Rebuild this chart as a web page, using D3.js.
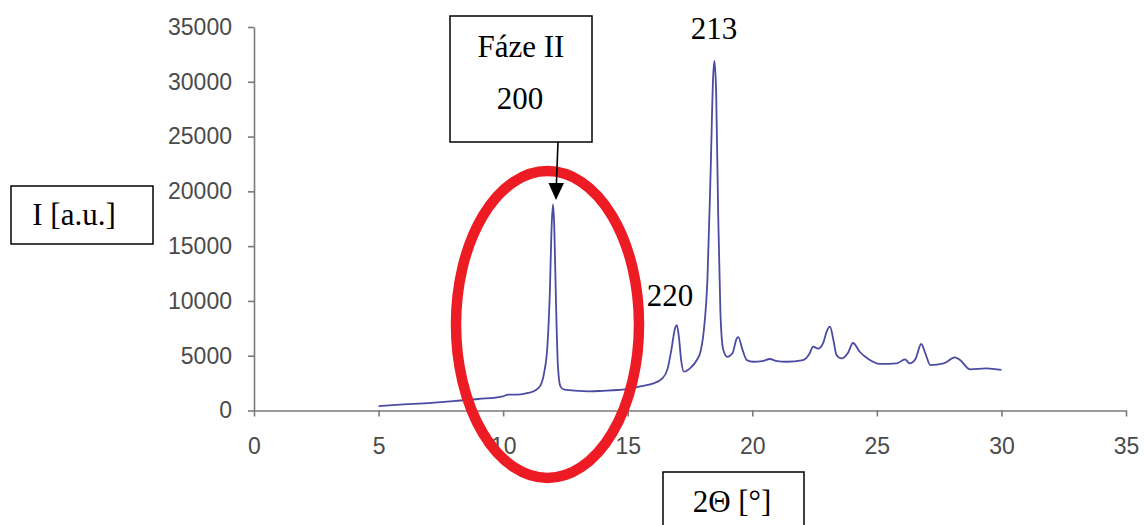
<!DOCTYPE html>
<html>
<head>
<meta charset="utf-8">
<script src="https://cdnjs.cloudflare.com/ajax/libs/d3/7.8.5/d3.min.js"></script>
<style>
  body { margin: 0; background: #fff; }
  .tick text { font-family: "Liberation Sans", Arial, sans-serif; font-size: 23px; fill: #4a4a4a; }
  .note { font-family: "Liberation Serif", "Times New Roman", serif; font-size: 31px; fill: #000; }
</style>
</head>
<body>
<div id="chart"></div>
<script>
// diffraction pattern
var twoTheta = [5, 6, 7, 8, 9, 10, 10.2, 10.6, 11, 11.3, 11.5, 11.65, 11.78, 11.87, 11.95, 12.0,
  12.05, 12.12, 12.2, 12.3, 12.45, 13, 13.5, 14, 14.6, 15, 15.5, 16, 16.4, 16.6, 16.75, 16.9,
  16.97, 17.05, 17.15, 17.25, 17.5, 17.8, 17.9, 18.05, 18.2, 18.33, 18.43, 18.48, 18.55, 18.63,
  18.72, 18.83, 19.0, 19.2, 19.38, 19.44, 19.6, 19.78, 20.04, 20.4, 20.7, 21.0, 21.37, 22.04,
  22.3, 22.44, 22.64, 22.85, 23.0, 23.12, 23.25, 23.38, 23.58, 23.85, 24.04, 24.32, 24.6,
  25.13, 25.8, 26.13, 26.32, 26.55, 26.78, 26.95, 27.14, 27.68, 28.14, 28.34, 28.74, 29.4, 30.0];
var intensity = [400, 550, 680, 850, 1050, 1300, 1450, 1450, 1600, 1850, 2300, 3500, 6000, 10500, 17000, 18800,
  17000, 10000, 4000, 2200, 1900, 1800, 1750, 1800, 1870, 1950, 2200, 2450, 2950, 3800, 5500, 7500,
  7800, 6800, 4500, 3550, 3850, 4700, 5200, 7200, 12000, 22000, 30500, 31900, 29000, 18000,
  9000, 5600, 4900, 5200, 6600, 6700, 5600, 4600, 4450, 4500, 4700, 4500, 4450, 4600,
  5200, 5830, 5650, 6200, 7300, 7650, 6500, 5070, 4760, 5300, 6160, 5340, 4790,
  4250, 4300, 4670, 4300, 4700, 6070, 5200, 4150, 4300, 4850, 4600, 3760, 3850, 3700];

var xTicks = [0, 5, 10, 15, 20, 25, 30, 35];
var yTicks = [0, 5000, 10000, 15000, 20000, 25000, 30000, 35000];

var data = twoTheta.map(function(t, i) { return {t: t, v: intensity[i]}; });

var width = 1145, height = 525;

var svg = d3.select("#chart")
  .append("svg")
    .attr("width", width)
    .attr("height", height);

var x = d3.scaleLinear().domain([0, 35]).range([254, 1126]);
var y = d3.scaleLinear().domain([0, 35000]).range([410.5, 27]);

// X axis
svg.append("g")
  .attr("transform", "translate(0," + y(0) + ")")
  .call(d3.axisBottom(x).tickValues(xTicks).tickFormat(d3.format("d"))
    .tickSizeInner(6).tickSizeOuter(0).tickPadding(21));

// Y axis
svg.append("g")
  .attr("transform", "translate(" + x(0) + ",0)")
  .call(d3.axisLeft(y).tickValues(yTicks).tickFormat(d3.format("d"))
    .tickSizeInner(6).tickSizeOuter(0).tickPadding(16));

svg.selectAll(".domain, .tick line")
  .attr("stroke", "#7a7a7a")
  .attr("stroke-width", 1.6);

// pattern
svg.append("path")
  .datum(data)
  .attr("fill", "none")
  .attr("stroke", "#4b4ba3")
  .attr("stroke-width", 1.8)
  .attr("d", d3.line()
    .x(function(d) { return x(d.t); })
    .y(function(d) { return y(d.v); })
    .curve(d3.curveMonotoneX));

// red ring around the 200 reflection
svg.append("ellipse")
  .attr("cx", 547.5)
  .attr("cy", 324.5)
  .attr("rx", 91.5)
  .attr("ry", 153.5)
  .attr("fill", "none")
  .attr("stroke", "#ed1c24")
  .attr("stroke-width", 10.5);

// boxes with labels
var box = function(x0, y0, w, h) {
  svg.append("rect")
    .attr("x", x0).attr("y", y0)
    .attr("width", w).attr("height", h)
    .attr("fill", "#fff")
    .attr("stroke", "#000")
    .attr("stroke-width", 1.5);
}
var note = function(txt, cx, by) {
  svg.append("text")
    .attr("class", "note")
    .attr("x", cx).attr("y", by)
    .attr("text-anchor", "middle")
    .text(txt);
}

box(450, 16, 142, 126);
note("Fáze II", 521, 56.5);
note("200", 520, 109);

box(11, 186, 142, 58);
note("I [a.u.]", 74, 225);

box(663, 472, 141, 60);
note("2\u0398 [\u00b0]", 732, 511.5);

note("213", 714, 39);
note("220", 670, 306);

// arrow from the box to the peak
svg.append("line")
  .attr("x1", 558).attr("y1", 142)
  .attr("x2", 556.3).attr("y2", 186)
  .attr("stroke", "#000")
  .attr("stroke-width", 1.6);
svg.append("path")
  .attr("d", "M548.5,183 L564,183 L556,200 Z")
  .attr("fill", "#000");
</script>
</body>
</html>
